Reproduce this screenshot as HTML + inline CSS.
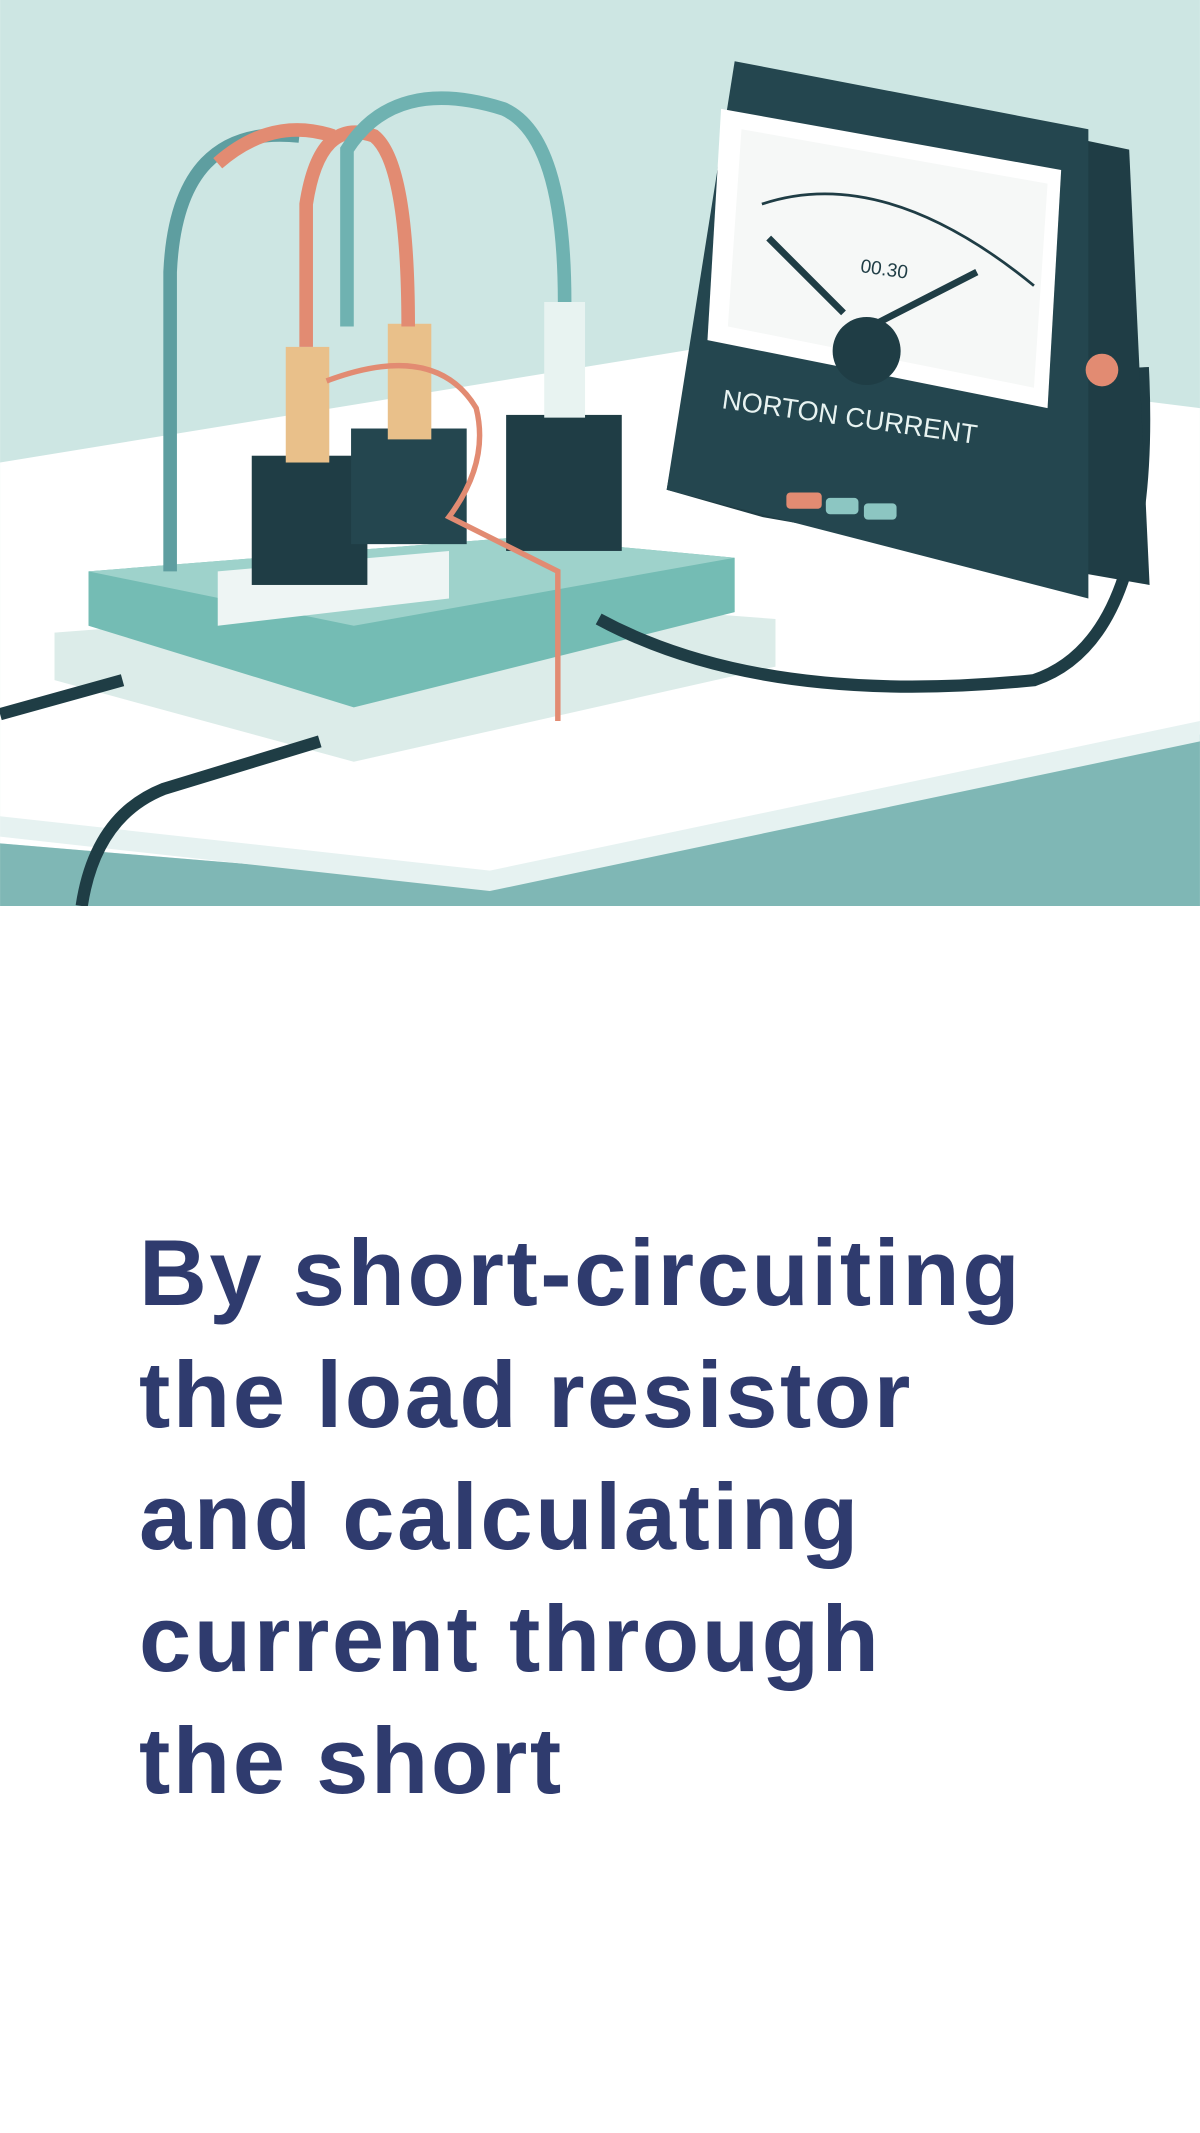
<!DOCTYPE html>
<html><head><meta charset="utf-8"><style>
html,body{margin:0;padding:0;background:#fff;}
body{width:1200px;height:2133px;position:relative;overflow:hidden;}
svg{position:absolute;left:0;top:0;}
.t{position:absolute;left:139px;top:1212px;font-family:"Liberation Sans",sans-serif;font-weight:bold;font-size:94px;line-height:122px;color:#2f3b6e;letter-spacing:2.5px;}
</style></head><body>
<svg width="1200" height="906" viewBox="0 0 882 666">
<rect width="882" height="666" fill="#cde6e3"/>
<polygon points="0,340 520,255 882,300 882,540 360,650 0,620" fill="#ffffff"/>
<polygon points="0,620 360,650 882,540 882,666 0,666" fill="#7fb7b5"/>
<polygon points="0,600 360,640 882,530 882,545 360,655 0,615" fill="#e6f2f1"/>
<polygon points="40,465 370,440 570,455 570,490 260,560 40,500" fill="#dcece9"/>
<polygon points="65,420 380,395 540,410 540,450 260,520 65,460" fill="#74bcb4"/>
<polygon points="65,420 380,395 540,410 260,460" fill="#9ed2cb"/>
<polygon points="160,420 330,405 330,440 160,460" fill="#eef5f4"/>
<rect x="185" y="335" width="85" height="95" fill="#1f3d45"/>
<rect x="258" y="315" width="85" height="85" fill="#24464f"/>
<rect x="372" y="305" width="85" height="100" fill="#1f3d45"/>
<rect x="210" y="255" width="32" height="85" fill="#e9c08a"/>
<rect x="285" y="238" width="32" height="85" fill="#e9c08a"/>
<rect x="400" y="222" width="30" height="85" fill="#e8f3f1"/>
<path d="M125,420 L125,200 Q130,90 220,100" stroke="#5e9ea0" stroke-width="10" fill="none"/>
<path d="M225,255 L225,150 Q235,85 275,100 Q300,120 300,240" stroke="#e28b72" stroke-width="10" fill="none"/>
<path d="M160,120 Q200,85 245,100" stroke="#e28b72" stroke-width="10" fill="none"/>
<path d="M255,240 L255,110 Q290,55 370,80 Q415,100 415,222" stroke="#6fb2b1" stroke-width="10" fill="none"/>
<path d="M240,280 Q320,250 350,300 Q360,340 330,380 L410,420 L410,530" stroke="#e28b72" stroke-width="4" fill="none"/>
<path d="M0,525 L90,500 M60,666 Q70,600 120,580 L235,545" stroke="#1f3d45" stroke-width="9" fill="none"/>
<path d="M440,455 Q560,520 760,500 Q850,470 840,270" stroke="#1f3d45" stroke-width="9" fill="none"/>
<polygon points="545,50 830,110 845,430 560,380 490,360" fill="#1f3d45"/>
<polygon points="540,45 800,95 800,440 490,360" fill="#24464f"/>
<polygon points="530,80 780,125 770,300 520,250" fill="#ffffff"/>
<polygon points="545,95 770,135 760,285 535,240" fill="#f6f8f7"/>
<path d="M560,150 Q650,120 760,210" stroke="#1f3d45" stroke-width="2" fill="none"/>
<path d="M620,230 L565,175 M640,240 L718,200" stroke="#1f3d45" stroke-width="5"/>
<circle cx="637" cy="258" r="25" fill="#1f3d45"/>
<text x="632" y="200" font-family="Liberation Sans,sans-serif" font-size="14" fill="#1f3d45" transform="rotate(8 632 200)">00.30</text>
<text x="530" y="300" font-family="Liberation Sans,sans-serif" font-size="20" fill="#e8f3f1" transform="rotate(8 530 300)">NORTON CURRENT</text>
<rect x="578" y="362" width="26" height="12" rx="3" fill="#e28b72"/>
<rect x="607" y="366" width="24" height="12" rx="3" fill="#8cc6c2"/>
<rect x="635" y="370" width="24" height="12" rx="3" fill="#8cc6c2"/>
<circle cx="810" cy="272" r="12" fill="#e28b72"/>
</svg>
<div class="t">By short-circuiting<br>the load resistor<br>and calculating<br>current through<br>the short</div>
</body></html>
